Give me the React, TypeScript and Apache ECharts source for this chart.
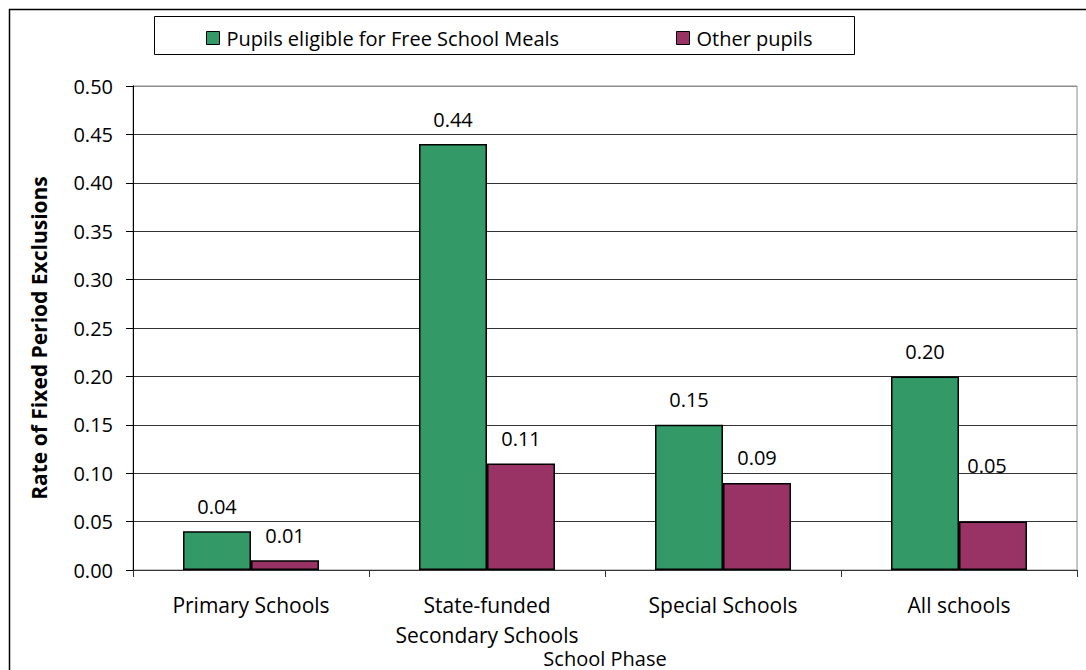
import React, { useEffect, useRef } from "react";
import * as echarts from "echarts";

const categories = ["Primary Schools", "State-funded\nSecondary Schools", "Special Schools", "All schools"];
const fsmValues = [0.04, 0.44, 0.15, 0.2];
const otherValues = [0.01, 0.11, 0.09, 0.05];
const seriesNames = ["Pupils eligible for Free School Meals", "Other pupils"];
const yMin = 0;
const yMax = 0.5;
const yInterval = 0.05;

const FONT = "'Open Sans', 'Noto Sans', sans-serif";

export default function App() {
  const ref = useRef<HTMLDivElement>(null);
  useEffect(() => {
    if (!ref.current) return;
    const chart = echarts.init(ref.current, null, { renderer: "svg" });
    const labelBase = {
      show: true,
      position: "top",
      distance: 15,
      fontFamily: FONT,
      fontSize: 20,
      color: "#000",
      formatter: (p: any) => Number(p.value).toFixed(2),
    };
    const otherData = otherValues.map((v, i) =>
      i === 3 ? { value: v, label: { offset: [-6, -31] } } : v
    );
    const splitColors = Array.from({ length: 11 }, (_, i) => (i === 10 ? "#8c8c8c" : "#333"));
    const legendCommon = {
      top: 23,
      itemWidth: 13,
      itemHeight: 13,
      icon: "rect",
      itemStyle: { borderColor: "#000", borderWidth: 1 },
      textStyle: { fontFamily: FONT, fontSize: 20, color: "#000", padding: [0, 0, 0, 2] },
    };
    chart.setOption({
      animation: false,
      backgroundColor: "#fff",
      textStyle: { fontFamily: FONT },
      grid: {
        left: 133,
        right: 9,
        top: 86,
        bottom: 100,
        containLabel: false,
        outerBoundsMode: "none",
        show: true,
        borderColor: "#8c8c8c",
        borderWidth: 1,
      },
      legend: [
        { ...legendCommon, data: [seriesNames[0]], left: 201 },
        { ...legendCommon, data: [seriesNames[1]], left: 671 },
      ],
      graphic: [
        {
          type: "rect",
          shape: { x: 9.5, y: 9.5, width: 1200, height: 800 },
          style: { fill: "none", stroke: "#000", lineWidth: 1.5 },
          silent: true,
        },
        {
          type: "rect",
          shape: { x: 154.5, y: 16.5, width: 700, height: 38 },
          style: { fill: "none", stroke: "#000", lineWidth: 1 },
          silent: true,
        },
      ],
      xAxis: {
        type: "category",
        data: categories,
        name: "School Phase",
        nameLocation: "middle",
        nameGap: 78,
        nameMoveOverlap: false,
        nameTextStyle: { fontFamily: FONT, fontSize: 20, color: "#000", lineHeight: 20 },
        axisLine: { show: true, lineStyle: { color: "#333", width: 1 } },
        axisTick: { show: true, length: 7, lineStyle: { color: "#333" } },
        axisLabel: { fontFamily: FONT, fontSize: 21, color: "#000", margin: 20, lineHeight: 30, interval: 0 },
      },
      yAxis: {
        type: "value",
        min: yMin,
        max: yMax,
        interval: yInterval,
        name: "Rate of Fixed Period Exclusions",
        nameLocation: "middle",
        nameGap: 84,
        nameRotate: 90,
        nameMoveOverlap: false,
        nameTextStyle: { fontFamily: FONT, fontSize: 21, fontWeight: "bold", color: "#000", padding: [0, 20, 0, 0] },
        axisLine: { show: true, lineStyle: { color: "#000", width: 1 } },
        axisTick: { show: true, length: 7, lineStyle: { color: "#000" } },
        axisLabel: { fontFamily: FONT, fontSize: 20, color: "#000", margin: 20, formatter: (v: number) => v.toFixed(2) },
        splitLine: { show: true, lineStyle: { color: splitColors, width: 1 } },
      },
      series: [
        {
          name: seriesNames[0],
          type: "bar",
          data: fsmValues,
          barWidth: 68,
          barGap: "0%",
          itemStyle: { color: "#339966", borderColor: "#000", borderWidth: 1.5 },
          label: labelBase,
        },
        {
          name: seriesNames[1],
          type: "bar",
          data: otherData,
          barWidth: 68,
          barGap: "0%",
          itemStyle: { color: "#993366", borderColor: "#000", borderWidth: 1.5 },
          label: labelBase,
        },
      ],
    });
    return () => chart.dispose();
  }, []);
  return (
    <div
      ref={ref}
      style={{ position: "fixed", left: 0, top: 0, width: 1086, height: 670, background: "#fff" }}
    />
  );
}
